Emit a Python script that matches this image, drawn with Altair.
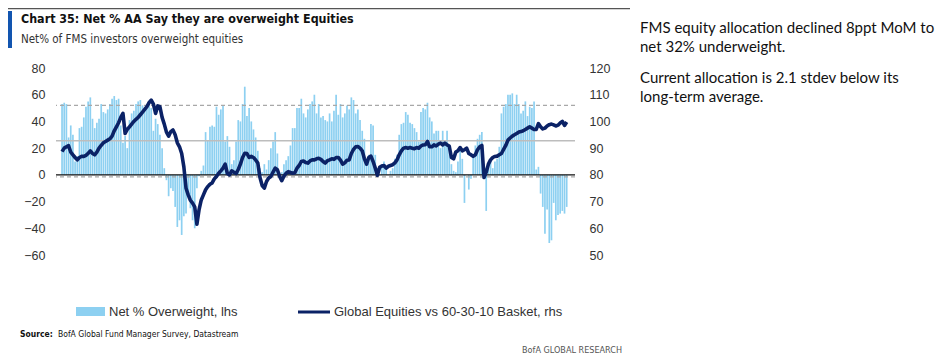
import altair as alt
import pandas as pd

# ---- Net % overweight equities (lhs), monthly, Jan of each year first ----
ow_2004 = [53, 54, 53, 28, 37, 30, 10, 14, 35, 36, 43, 51]
ow_2005 = [55, 58, 42, 35, 39, 42, 53, 47, 46, 49, 53, 57]
ow_2006 = [59, 56, 57, 37, 24, 29, 20, 41, 46, 48, 53, 55]
ow_2007 = [56, 52, 50, 53, 55, 50, 33, 42, 38, 30, 20, 5]
ow_2008 = [-4, -16, -10, -12, -24, -39, -34, -45, -31, -29, -16, -25]
ow_2009 = [-34, -40, -10, -1, 3, 7, 32, 26, 36, 37, 36, 51]
ow_2010 = [45, 49, 52, 25, 29, 21, 8, 11, 25, 41, 40, 53]
ow_2011 = [66, 44, 50, 40, 34, 28, 18, 5, 2, 8, 4, 11]
ow_2012 = [20, 25, 32, 16, 0, 2, 8, 11, 14, 22, 35, 35]
ow_2013 = [50, 50, 57, 46, 43, 49, 53, 55, 60, 46, 53, 43]
ow_2014 = [44, 41, 40, 46, 40, 48, 60, 45, 53, 43, 46, 52]
ow_2015 = [49, 58, 56, 46, 49, 41, 33, 27, 12, 15, 38, 37]
ow_2016 = [15, 5, 0, 8, 10, 5, 0, 3, 5, 12, 15, 30]
ow_2017 = [38, 39, 47, 45, 39, 38, 35, 32, 25, 47, 50, 49]
ow_2018 = [54, 43, 40, 31, 33, 33, 20, 33, 25, 33, 20, 8]
ow_2019 = [3, 2, 10, 18, 12, -21, 0, -11, -3, 14, 22, 27]
ow_2020 = [30, 32, 5, -27, 8, 10, 5, 10, 12, 21, 46, 51]
ow_2021 = [53, 60, 60, 61, 53, 60, 53, 46, 48, 55, 44, 51]
ow_2022 = [50, 55, 4, 6, -14, -24, -44, -26, -51, -49, -21, -34]
ow_2023 = [-30, -29, -27, -29, -24]

# ---- Global equities vs 60-30-10 basket (rhs), monthly ----
eq_2004 = [88.7, 90.0, 90.5, 90.9, 88.5, 87.5, 86.5, 85.6, 86.5, 86.9, 86.9, 87.3]
eq_2005 = [88.0, 89.0, 88.0, 87.5, 88.5, 90.0, 91.0, 92.0, 92.5, 93.0, 93.5, 94.5]
eq_2006 = [96.5, 98.0, 99.5, 101.5, 103.0, 95.5, 97.0, 98.0, 99.0, 100.0, 100.8, 101.5]
eq_2007 = [102.5, 103.5, 104.5, 105.5, 107.0, 108.0, 106.5, 103.0, 105.8, 105.5, 101.5, 99.0]
eq_2008 = [96.0, 94.5, 96.2, 96.8, 95.0, 92.0, 90.5, 88.0, 83.0, 75.0, 72.5, 70.5]
eq_2009 = [69.4, 68.0, 61.5, 67.0, 70.6, 72.5, 74.4, 75.6, 76.5, 77.0, 78.5, 79.4]
eq_2010 = [80.6, 81.5, 82.5, 84.0, 80.5, 80.0, 81.5, 81.0, 80.5, 82.0, 84.0, 86.5]
eq_2011 = [88.1, 88.0, 86.5, 86.9, 86.5, 85.6, 84.4, 79.0, 76.0, 75.0, 77.5, 78.8]
eq_2012 = [79.4, 81.0, 82.5, 81.9, 79.5, 77.8, 79.5, 80.6, 81.2, 80.9, 80.6, 80.8]
eq_2013 = [82.5, 83.5, 85.0, 85.2, 84.6, 84.4, 85.2, 85.6, 85.6, 86.0, 86.2, 85.8]
eq_2014 = [85.0, 84.4, 85.3, 85.6, 86.0, 85.8, 86.5, 86.5, 85.5, 84.0, 84.5, 85.5]
eq_2015 = [85.6, 88.0, 89.5, 90.5, 90.6, 90.0, 89.0, 86.0, 84.0, 86.5, 87.0, 85.0]
eq_2016 = [82.5, 79.8, 82.8, 83.3, 83.5, 82.5, 83.2, 83.5, 83.8, 84.5, 85.6, 87.5]
eq_2017 = [89.0, 90.0, 90.2, 90.0, 90.2, 90.0, 89.8, 90.2, 90.0, 90.8, 91.2, 91.3]
eq_2018 = [92.5, 90.5, 90.5, 91.2, 90.8, 91.5, 91.9, 91.2, 91.9, 91.2, 90.8, 86.5]
eq_2019 = [86.0, 88.5, 89.0, 90.2, 89.0, 89.4, 90.0, 88.0, 87.5, 86.9, 87.5, 89.4]
eq_2020 = [90.5, 91.0, 79.0, 81.0, 84.0, 85.6, 86.5, 86.9, 87.0, 87.5, 88.0, 89.5]
eq_2021 = [91.0, 93.0, 93.8, 94.5, 95.0, 95.5, 96.0, 96.2, 96.5, 97.0, 97.5, 98.0]
eq_2022 = [97.5, 97.0, 97.0, 99.2, 98.0, 97.2, 97.5, 98.3, 98.8, 99.0, 98.7, 98.3]
eq_2023 = [98.6, 99.4, 100.0, 98.5, 99.8]

# long-term average and +/- 1 stdev of the net % overweight series
avg_level = 25.5
upper_band = 52.0
lower_band = -1.5

year_labels = list(range(2004, 2024))

ow_years = [ow_2004, ow_2005, ow_2006, ow_2007, ow_2008, ow_2009, ow_2010, ow_2011,
            ow_2012, ow_2013, ow_2014, ow_2015, ow_2016, ow_2017, ow_2018, ow_2019,
            ow_2020, ow_2021, ow_2022, ow_2023]
eq_years = [eq_2004, eq_2005, eq_2006, eq_2007, eq_2008, eq_2009, eq_2010, eq_2011,
            eq_2012, eq_2013, eq_2014, eq_2015, eq_2016, eq_2017, eq_2018, eq_2019,
            eq_2020, eq_2021, eq_2022, eq_2023]

rows = []
for yr, ow, eq in zip(year_labels, ow_years, eq_years):
    for m, (a, b) in enumerate(zip(ow, eq)):
        rows.append({"t": yr + m / 12.0, "ow": a, "eq": b})
df = pd.DataFrame(rows)

BAR = "#8DD0F1"
NAVY = "#0B2266"
FONT = "Liberation Sans"
NARROW = "DejaVu Sans Condensed, Liberation Sans Narrow, Roboto"

xscale = alt.Scale(domain=[2003.96, 2023.46], nice=False, zero=False)
left_scale = alt.Scale(domain=[-60, 80], nice=False)
right_scale = alt.Scale(domain=[50, 120], nice=False)

xaxis = alt.Axis(values=year_labels, labelExpr="substring(toString(datum.value), 2, 4)",
                 grid=False, ticks=False, domain=False, labelPadding=9,
                 labelFontSize=12.5, labelColor="#333", labelFont=FONT, title=None)

bars = alt.Chart(df).mark_bar(width=1.7, color=BAR).encode(
    x=alt.X("t:Q", scale=xscale, axis=xaxis),
    y=alt.Y("ow:Q", scale=left_scale,
            axis=alt.Axis(orient="left", values=list(range(-60, 81, 20)), grid=False,
                          ticks=False, domain=False, labelPadding=11, labelFontSize=12.5,
                          labelColor="#333", labelFont=FONT, title=None)),
)

band_df = pd.DataFrame({"v": [upper_band, lower_band]})
bands = alt.Chart(band_df).mark_rule(color="#A8A8A8", strokeWidth=1.3, strokeDash=[4, 3]).encode(
    y=alt.Y("v:Q", scale=left_scale, axis=None))
avg_df = pd.DataFrame({"v": [avg_level]})
avg = alt.Chart(avg_df).mark_rule(color="#BDBDBD", strokeWidth=1.6).encode(
    y=alt.Y("v:Q", scale=left_scale, axis=None))
zero_df = pd.DataFrame({"v": [0]})
zero = alt.Chart(zero_df).mark_rule(color="#111", strokeWidth=1.2).encode(
    y=alt.Y("v:Q", scale=left_scale, axis=None))

line = alt.Chart(df).mark_line(color=NAVY, strokeWidth=3.6, strokeJoin="round").encode(
    x=alt.X("t:Q", scale=xscale, axis=None),
    y=alt.Y("eq:Q", scale=right_scale,
            axis=alt.Axis(orient="right", values=list(range(50, 121, 10)), grid=False,
                          ticks=False, domain=False, labelPadding=14, labelFontSize=12.5,
                          labelColor="#333", labelFont=FONT, title=None)),
)

dummy = pd.DataFrame({"d": [0]})


def txt(s, x, y, size, weight="normal", color="#222", font=FONT, align="left"):
    return alt.Chart(dummy).mark_text(text=s, align=align, baseline="middle", fontSize=size,
                                      fontWeight=weight, color=color, font=font).encode(
        x=alt.value(x), y=alt.value(y))


deco = [
    alt.Chart(dummy).mark_rule(color="#555", strokeWidth=1.5).encode(
        x=alt.value(-48), x2=alt.value(574), y=alt.value(-59.4)),
    alt.Chart(dummy).mark_rect(color="#1255B0").encode(
        x=alt.value(-48), x2=alt.value(-44), y=alt.value(-57), y2=alt.value(-20)),
    txt("Chart 35: Net % AA Say they are overweight Equities", -35, -49, 12.4, "bold", "#111", NARROW),
    txt("Net% of FMS investors overweight equities", -35, -28, 11.5, "normal", "#333", NARROW),
    txt("FMS equity allocation declined 8ppt MoM to", 584, -40, 15, "normal", "#111", "Lato"),
    txt("net 32% underweight.", 584, -21, 15, "normal", "#111", "Lato"),
    txt("Current allocation is 2.1 stdev below its", 584, 10, 15, "normal", "#111", "Lato"),
    txt("long-term average.", 584, 29, 15, "normal", "#111", "Lato"),
    alt.Chart(dummy).mark_rect(color=BAR).encode(
        x=alt.value(20), x2=alt.value(49), y=alt.value(239), y2=alt.value(248)),
    txt("Net % Overweight, lhs", 53, 244, 13, "normal", "#333", FONT),
    alt.Chart(dummy).mark_rule(color=NAVY, strokeWidth=3).encode(
        x=alt.value(242), x2=alt.value(274), y=alt.value(244)),
    txt("Global Equities vs 60-30-10 Basket, rhs", 278, 244, 13, "normal", "#333", FONT),
    txt("Source:", -36, 266, 8.5, "bold", "#111", NARROW),
    txt("BofA Global Fund Manager Survey, Datastream", 2, 266, 8.5, "normal", "#111", NARROW),
    txt("BofA GLOBAL RESEARCH", 566, 282, 9, "normal", "#555", NARROW, "right"),
]

chart = alt.layer(bars, bands, avg, zero, line, *deco).resolve_scale(
    y="independent"
).properties(
    width=519, height=187,
    autosize=alt.AutoSizeParams(type="none"),
    padding={"left": 48, "top": 60, "right": 360, "bottom": 99},
).configure_view(stroke=None)

chart.save("out.html", embed_options={"renderer": "svg", "actions": False})
